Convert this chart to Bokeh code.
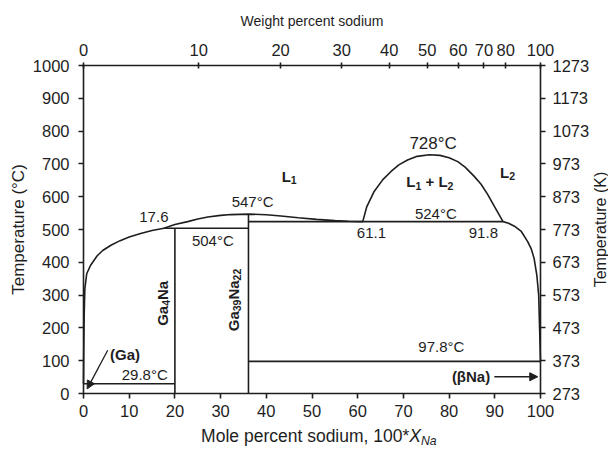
import math
from bokeh.plotting import figure
from bokeh.models import Range1d, LinearAxis, FixedTicker, Label, Arrow, NormalHead
from bokeh.embed import file_html
from bokeh.resources import INLINE

# ---------------- data ----------------
mole_ticks = [0, 10, 20, 30, 40, 50, 60, 70, 80, 90, 100]
celsius_ticks = [0, 100, 200, 300, 400, 500, 600, 700, 800, 900, 1000]
kelvin_ticks = [273, 373, 473, 573, 673, 773, 873, 973, 1073, 1173, 1273]
weight_tick_labels = [0, 10, 20, 30, 40, 50, 60, 70, 80, 100]
M_GA, M_NA = 69.723, 22.990
X_MIN, X_MAX = 0, 100          # mole percent sodium
T_MIN, T_MAX = 0, 1000         # degrees C
K_OFFSET = 273

# liquidus (Ga side)
liq_ga_x = [0, 0.05, 0.15, 0.3, 0.7, 1.6, 3.0, 4.2, 6.0, 8.0, 10.0, 12.5, 15.0, 17.6]
liq_ga_y = [29.8, 120, 240, 320, 365, 392, 420, 436, 452, 466, 477, 488, 497, 504]
# liquidus over the compounds
liq_mid_x = [17.6, 20, 22.8, 25, 27.2, 30, 32.3, 36.1, 40, 43.2, 47, 51, 55, 58, 61.1]
liq_mid_y = [504, 515, 524, 532, 538, 543, 545.5, 547, 545, 541, 536, 531, 527, 525, 524]
# miscibility gap dome
dome_x = [61.1, 62, 63.6, 65.5, 67.3, 69, 70.9, 73, 75.7, 78, 80, 81.9, 83.5, 85.5, 87, 88.4, 90, 91.8]
dome_y = [524, 570, 616, 652, 677, 697, 712, 723, 728, 726, 719, 707, 690, 662, 638, 608, 568, 524]
# liquidus (Na side)
liq_na_x = [91.8, 93, 94.3, 95.8, 97.2, 98.0, 98.6, 99.2, 99.6, 99.8, 100]
liq_na_y = [524, 519, 510, 494, 463, 440, 412, 360, 300, 200, 97.8]

# invariant lines / compounds
ga4na_x = 20.0
ga39na22_x = 36.1
t_peritectic = 504
t_congruent = 547
t_monotectic = 524
t_na_eutectic = 97.8
t_ga_eutectic = 29.8
x_peritectic_liq = 17.6
x_mono_left = 61.1
x_mono_right = 91.8

# ---------------- figure ----------------
FONT = "Liberation Sans"
INK = "#1e1e1e"
LW = 1.6
W, H = 608, 457
# the whole canvas is the frame; axes are pinned at the data box edges
PX_LEFT, PX_RIGHT, PX_TOP, PX_BOTTOM = 83, 540, 65, 393
sx = (PX_RIGHT - PX_LEFT) / (X_MAX - X_MIN)
sy = (PX_BOTTOM - PX_TOP) / (T_MAX - T_MIN)
x0 = X_MIN - PX_LEFT / sx
x1 = x0 + W / sx
y0 = T_MIN - (H - PX_BOTTOM) / sy
y1 = y0 + H / sy

p = figure(width=W, height=H, output_backend="svg", toolbar_location=None,
           x_range=Range1d(x0, x1), y_range=Range1d(y0, y1))
p.min_border = 0
p.min_border_left = p.min_border_right = p.min_border_top = p.min_border_bottom = 0
p.grid.visible = False
p.outline_line_color = None
p.background_fill_color = "white"
p.border_fill_color = "white"

def style_axis(ax, tick_in=0, tick_out=5, label_size="16.5px"):
    ax.axis_line_color = INK
    ax.axis_line_width = LW
    ax.axis_line_cap = "square"
    ax.major_tick_line_color = INK
    ax.major_tick_line_width = LW
    ax.major_tick_in = tick_in
    ax.major_tick_out = tick_out
    ax.minor_tick_line_color = None
    ax.major_label_text_font = FONT
    ax.major_label_text_font_size = label_size
    ax.major_label_text_color = INK
    ax.axis_label_text_font = FONT
    ax.axis_label_text_font_style = "normal"
    ax.axis_label_text_color = INK

# bottom (mole percent)
xa = p.xaxis[0]
xa.ticker = FixedTicker(ticks=mole_ticks)
xa.fixed_location = T_MIN
xa.bounds = (X_MIN, X_MAX)
style_axis(xa)
xa.major_label_standoff = 6
xa.axis_label = None

# left (Celsius)
ya = p.yaxis[0]
ya.ticker = FixedTicker(ticks=celsius_ticks)
ya.fixed_location = X_MIN
ya.bounds = (T_MIN, T_MAX)
style_axis(ya)
ya.major_label_standoff = 9
ya.axis_label = "Temperature (\u00b0C)"
ya.axis_label_text_font_size = "17px"
ya.axis_label_standoff = 2

# right (Kelvin)
p.extra_y_ranges = {"K": Range1d(y0 + K_OFFSET, y1 + K_OFFSET)}
ka = LinearAxis(y_range_name="K", ticker=FixedTicker(ticks=kelvin_ticks))
ka.fixed_location = X_MAX
ka.bounds = (T_MIN + K_OFFSET, T_MAX + K_OFFSET)
style_axis(ka)
ka.major_label_standoff = 7
p.add_layout(ka, "right")

# top (weight percent)
def wt_to_mole(w):
    a = w / M_NA
    b = (100 - w) / M_GA
    return round(100 * a / (a + b), 4)

top_pos = [wt_to_mole(w) for w in weight_tick_labels]
ta = LinearAxis(ticker=FixedTicker(ticks=top_pos), axis_label="Weight percent sodium")
ta.fixed_location = T_MAX
ta.bounds = (X_MIN, X_MAX)
style_axis(ta, tick_in=3, tick_out=3)
ta.major_label_overrides = {pos: str(w) for pos, w in zip(top_pos, weight_tick_labels)}
ta.axis_label_text_font_size = "14px"
ta.axis_label_standoff = 12
ta.major_label_standoff = 7
p.add_layout(ta, "above")

# ---------------- curves ----------------
def ln(xs, ys):
    p.line(xs, ys, line_color=INK, line_width=LW)

ln(liq_ga_x, liq_ga_y)
ln(liq_mid_x, liq_mid_y)
ln(dome_x, dome_y)
ln(liq_na_x, liq_na_y)
ln([ga4na_x, ga4na_x], [0, t_peritectic])
ln([ga39na22_x, ga39na22_x], [0, t_congruent])
ln([x_peritectic_liq, ga39na22_x], [t_peritectic, t_peritectic])
ln([ga39na22_x, x_mono_right], [t_monotectic, t_monotectic])
ln([ga39na22_x, 100], [t_na_eutectic, t_na_eutectic])
ln([0, ga4na_x], [t_ga_eutectic, t_ga_eutectic])

# ---------------- text ----------------
REG = {'M': .833, 'o': .556, 'l': .222, 'e': .556, ' ': .278, 'p': .556, 'r': .333,
       'c': .5, 'n': .556, 't': .278, 's': .5, 'd': .556, 'i': .222, 'u': .556,
       'm': .833, ',': .278, '*': .389, 'X': .667, 'N': .722, 'a': .556, 'L': .556,
       '+': .584, 'G': .778}
BOLD = {'L': .611, 'G': .778, 'a': .556, 'N': .722, '+': .584, ' ': .278}

def text_width(t, bold, size):
    table = BOLD if bold else REG
    return sum(table.get(ch, .556) for ch in t) * size

def simple(x, y, t, size=15, bold=False, angle=0.0):
    p.add_layout(Label(x=x, y=y, text=t, text_font=FONT, text_font_size=f"{size}px",
                       text_font_style="bold" if bold else "normal", text_color=INK,
                       text_align="center", text_baseline="middle", angle=angle))

def rich(x, y, segs, size=15, angle=0.0):
    """segs: (text, bold, italic, subscript); blank text is a gap only."""
    widths = [text_width(t, b, size * (0.7 if s else 1.0)) for t, b, i, s in segs]
    pos = -sum(widths) / 2
    ca, sa = math.cos(angle), math.sin(angle)
    for (t, b, i, s), w in zip(segs, widths):
        if t.strip():
            fs = size * (0.7 if s else 1.0)
            down = 0.24 * size if s else 0.0
            xo = pos * ca + down * sa
            yo = pos * sa - down * ca
            style = "bold" if b else "normal"
            if i:
                style = "bold italic" if b else "italic"
            p.add_layout(Label(x=x, y=y, text=t, x_offset=xo, y_offset=yo, angle=angle,
                               text_font=FONT, text_font_size=f"{fs:.1f}px",
                               text_font_style=style, text_color=INK,
                               text_align="left", text_baseline="middle"))
        pos += w

simple(15.4, 537, "17.6")
simple(37.0, 584, "547\u00b0C")
simple(28.3, 467, "504\u00b0C")
simple(76.5, 763, "728\u00b0C", size=17)
simple(77.1, 550, "524\u00b0C")
simple(63.0, 489, "61.1")
simple(87.5, 488, "91.8")
simple(13.4, 58, "29.8\u00b0C")
simple(78.3, 142, "97.8\u00b0C")
simple(9.1, 120, "(Ga)", bold=True)
simple(84.8, 51, "(\u03b2Na)", bold=True)

rich(45.0, 662, [("L", True, False, False), ("1", True, False, True)])
rich(92.8, 675, [("L", True, False, False), ("2", True, False, True)])
rich(75.8, 645, [("L", True, False, False), ("1", True, False, True), (" ", True, False, False),
                 ("+", True, False, False), (" ", True, False, False),
                 ("L", True, False, False), ("2", True, False, True)])
rich(17.3, 275, [("Ga", True, False, False), ("4", True, False, True),
                 ("Na", True, False, False)], angle=math.pi / 2)
rich(32.8, 285, [("Ga", True, False, False), ("39", True, False, True),
                 ("Na", True, False, False), ("22", True, False, True)], angle=math.pi / 2)

# bottom axis title (with italic subscript) and right axis title
rich(51.5, -131, [("Mole percent sodium, 100*", False, False, False),
                  ("X", False, True, False), ("Na", False, True, True)], size=17.5)
simple(113.1, 500, "Temperature (K)", size=16, angle=math.pi / 2)

# arrows
p.add_layout(Arrow(end=NormalHead(size=8, fill_color=INK, line_color=INK, line_width=1),
                   x_start=5.3, y_start=132, x_end=0.8, y_end=14,
                   line_color=INK, line_width=1.3))
p.add_layout(Arrow(end=NormalHead(size=8, fill_color=INK, line_color=INK, line_width=1),
                   x_start=89.9, y_start=51, x_end=99.4, y_end=51,
                   line_color=INK, line_width=1.3))

open("out.html", "w").write(file_html(p, INLINE))
